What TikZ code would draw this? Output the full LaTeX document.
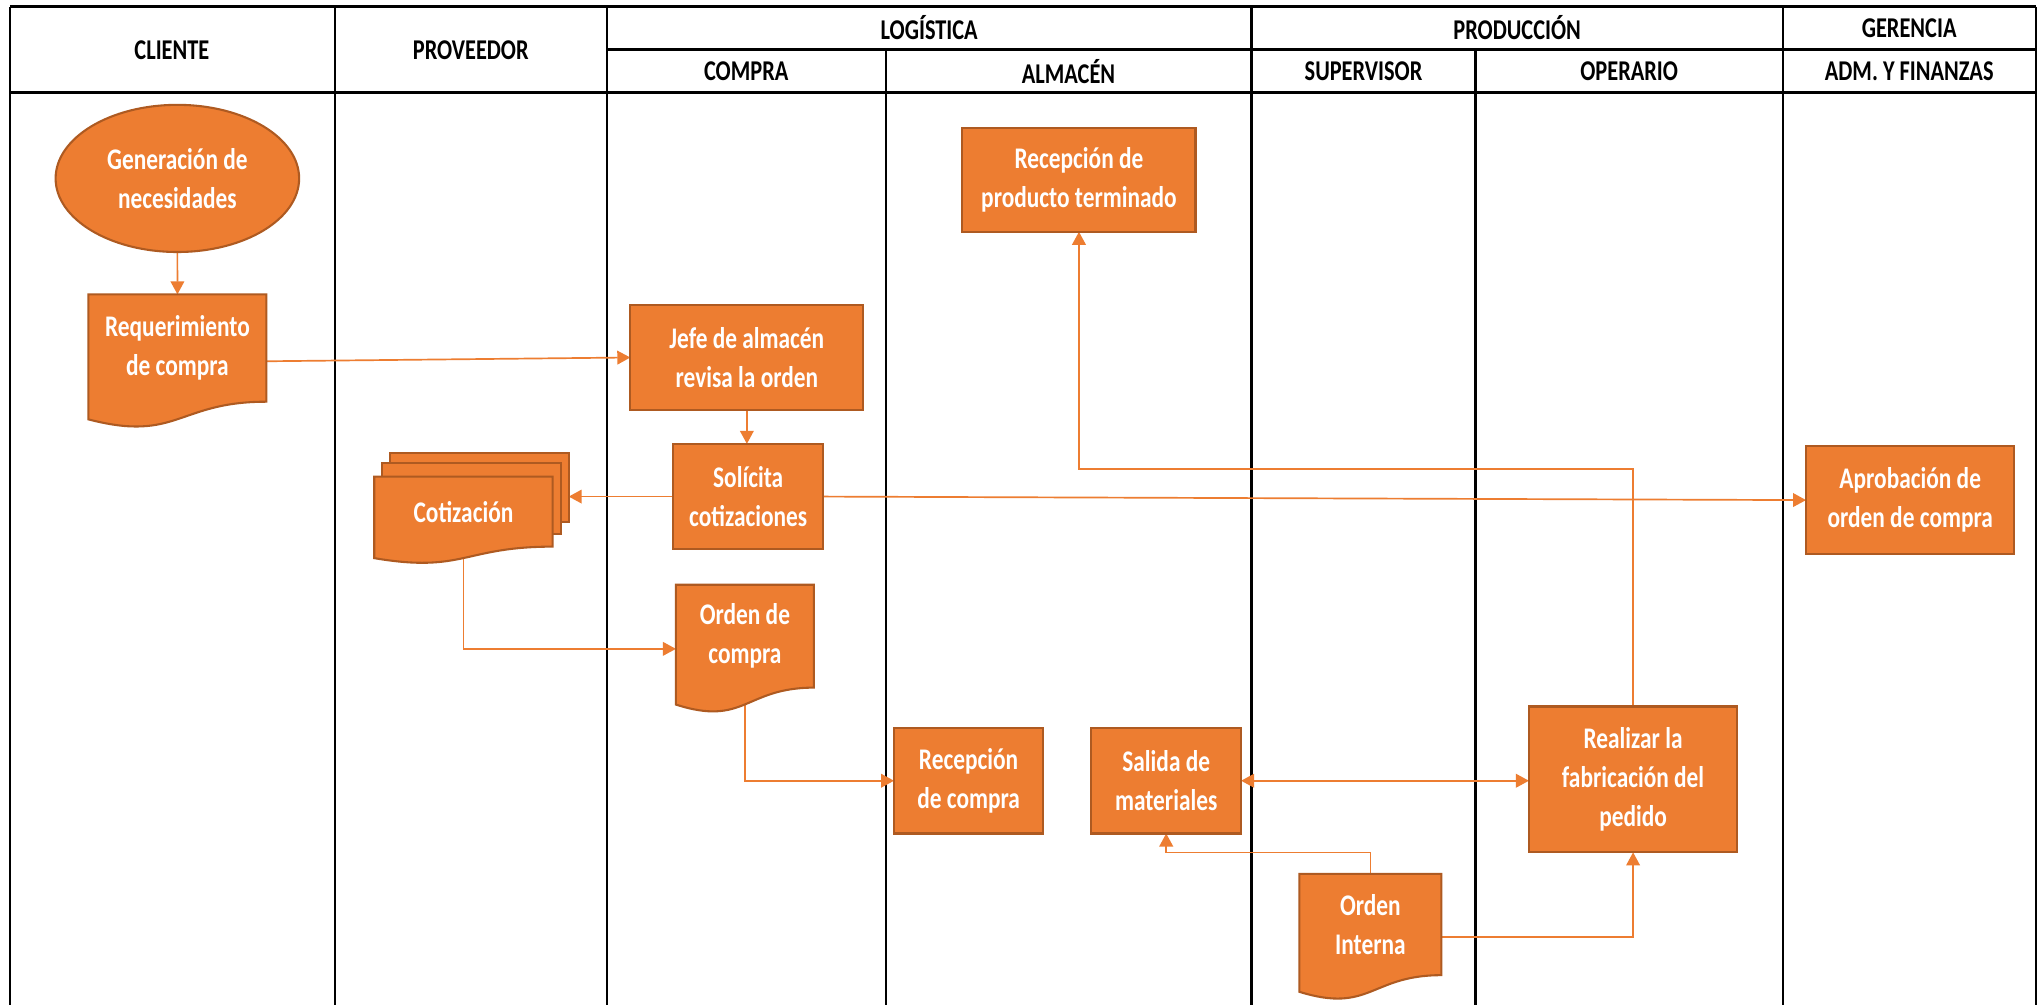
\documentclass[tikz,border=0pt]{standalone}
\usepackage{fontspec}
\setmainfont{Carlito}[FakeStretch=0.78]
\usetikzlibrary{arrows.meta,shapes.geometric}
\definecolor{orfill}{HTML}{ED7D31}
\definecolor{orline}{HTML}{AE5A21}
\definecolor{orconn}{HTML}{ED7D31}
\pgfdeclarelayer{grid}
\pgfdeclarelayer{conn}
\pgfsetlayers{grid,conn,main}
\newcommand\myBodyFont{\fontsize{23}{30}\selectfont\bfseries}
\newcommand\myHdrFont{\fontsize{22}{26}\selectfont\bfseries}
\tikzset{
 tipA/.tip={Triangle[length=10pt,width=10.5pt]},
 procbox/.style={rectangle, fill=orfill, draw=orline, line width=1.6pt, text=white, font=\myBodyFont, align=center, inner sep=0pt, outer sep=0pt},
 docnode/.style={rectangle, draw=none, inner sep=0pt, outer sep=0pt},
 docpath/.style={fill=orfill, draw=orline, line width=1.6pt},
 doctext/.style={text=white, font=\myBodyFont, align=center, inner sep=0pt},
 hdr/.style={font=\myHdrFont, text=black, align=center, inner sep=0pt},
 conn/.style={draw=orconn, line width=1.3pt, -tipA},
 lane/.style={line width=1.6pt, draw=black},
}
% #1 name, #2 x0, #3 y0, #4 w, #5 h, #6 text
\newcommand\mkdoc[6]{%
  \node[docnode, minimum width=#4pt, minimum height=#5pt] (#1) at ({#2+#4/2},{#3+#5/2}) {};
  \path[docpath] (#2,#3) -- ({#2+#4},#3) -- ({#2+#4},{#3+0.802*#5})
     .. controls ({#2+0.5*#4},{#3+0.802*#5}) and ({#2+0.5*#4},{#3+1.1075*#5}) .. (#2,{#3+0.934*#5}) -- cycle;
  \node[doctext] (#1t) at ({#2+#4/2},{#3+0.401*#5}) {#6};
}
\begin{document}
\begin{tikzpicture}[x=1pt,y=-1pt]
\useasboundingbox (0,0) rectangle (1568,772);
\begin{pgfonlayer}{grid}
  \fill[white] (0,0) rectangle (1568,772);
  \foreach \xx in {7.5,257,466,961,1369,1563.5} {\draw[lane] (\xx,5) -- (\xx,772);}
  \foreach \xx in {680,1133} {\draw[lane] (\xx,38) -- (\xx,772);}
  \draw[line width=2.6pt] (7.5,5) -- (1563.5,5);
  \draw[line width=2.2pt] (466,38) -- (1563.5,38);
  \draw[line width=3pt] (7.5,71) -- (1563.5,71);
\end{pgfonlayer}

% headers
\node[hdr] (hcli) at (132,38.5) {CLIENTE};
\node[hdr] (hpro) at (361.5,38.5) {PROVEEDOR};
\node[hdr] (hlog) at (713.5,21.5) {LOGÍSTICA};
\node[hdr] (hprod) at (1165,21.5) {PRODUCCIÓN};
\node[hdr] (hger) at (1466,21.5) {GERENCIA};
\node[hdr] (hcom) at (573,55) {COMPRA};
\node[hdr] (halm) at (820.5,55) {ALMACÉN};
\node[hdr] (hsup) at (1047,55) {SUPERVISOR};
\node[hdr] (hope) at (1251,55) {OPERARIO};
\node[hdr] (hadm) at (1466,55) {ADM. Y FINANZAS};

% process shapes
\node[procbox, ellipse, minimum width=187pt, minimum height=113pt] (gen) at (136.2,137) {Generación de\\necesidades};
\node[procbox, minimum width=179pt, minimum height=80pt] (rpt) at (828.5,138) {Recepción de\\producto terminado};
\node[procbox, minimum width=179pt, minimum height=81pt] (jefe) at (573.5,274.5) {Jefe de almacén\\revisa la orden};
\node[procbox, minimum width=115pt, minimum height=81pt] (sol) at (574.5,381.3) {Solícita\\cotizaciones};
\node[procbox, minimum width=160pt, minimum height=83pt] (aprob) at (1466.8,384) {Aprobación de\\orden de compra};
\node[procbox, minimum width=114.5pt, minimum height=81pt] (rc) at (743.75,599.5) {Recepción\\de compra};
\node[procbox, minimum width=115pt, minimum height=81pt] (sal) at (895.5,599.5) {Salida de\\materiales};
\node[procbox, minimum width=160pt, minimum height=112pt] (real) at (1254,598.5) {Realizar la\\fabricación del\\pedido};

% documents
\mkdoc{req}{67.9}{226}{136.7}{102.8}{Requerimiento\\de compra}
\node[procbox, minimum width=137.2pt, minimum height=53.4pt] (cotb) at (368.1,374.3) {};
\node[procbox, minimum width=136.9pt, minimum height=54.2pt] (cotm) at (362.05,382.9) {};
\mkdoc{cotf}{287.4}{366}{137}{67}{Cotización}
\mkdoc{oc}{519}{449}{106}{98.5}{Orden de\\compra}
\mkdoc{oi}{997.8}{671}{109}{97}{Orden\\Interna}

% connectors
\begin{pgfonlayer}{conn}
  \draw[conn] (gen.south) -- (req.north);
  \draw[conn] (req.east) -- (jefe.west);
  \draw[conn] (jefe.south) -- (jefe.south |- sol.north);
  \draw[conn] (sol.west) -- (sol.west -| cotb.east);
  \draw[conn] (sol.east) -- (aprob.west);
  \draw[conn] (cotf.center) |- (oc.west);
  \draw[conn] (oc.center) |- (rc.west);
  \draw[conn, tipA-tipA] (sal.east) -- (sal.east -| real.west);
  \draw[conn] (oi.north) -- ++(0,-16.3) -| (sal.south);
  \draw[conn] (oi.east) -| (real.south);
  \draw[conn] (real.north) -- ++(0,-182.6) -| (rpt.south);
\end{pgfonlayer}
\end{tikzpicture}
\end{document}
